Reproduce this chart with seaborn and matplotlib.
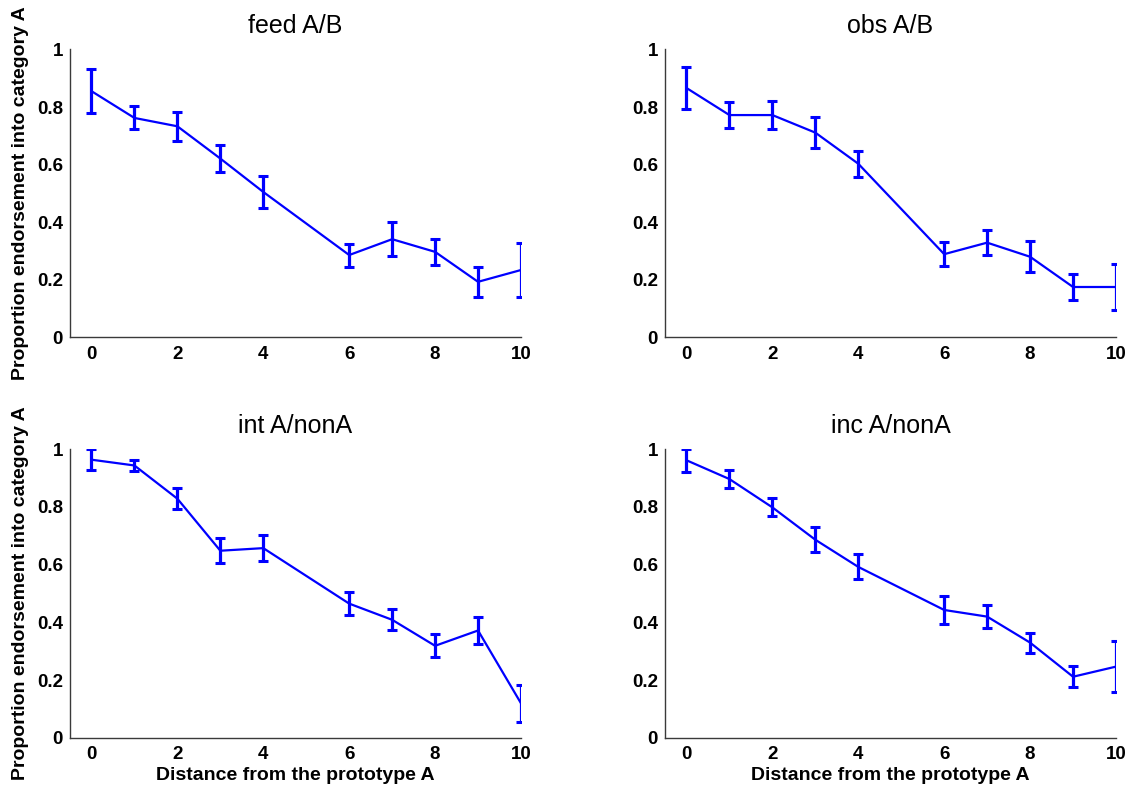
import numpy as np
import pandas as pd
import matplotlib
matplotlib.use("Agg")
import matplotlib.pyplot as plt
import seaborn as sns
from matplotlib.ticker import FuncFormatter

sns.set_style("white")
plt.rcParams['font.family'] = ['Liberation Sans', 'DejaVu Sans']
plt.rcParams['text.color'] = 'black'
plt.rcParams['axes.labelcolor'] = 'black'
plt.rcParams['xtick.color'] = 'black'
plt.rcParams['ytick.color'] = 'black'

distance = [0, 1, 2, 3, 4, 6, 7, 8, 9, 10]

titles = ["feed A/B", "obs A/B", "int A/nonA", "inc A/nonA"]

feed_mean = [0.855, 0.762, 0.733, 0.621, 0.505, 0.286, 0.341, 0.297, 0.193, 0.234]
feed_err  = [0.077, 0.040, 0.050, 0.048, 0.054, 0.040, 0.060, 0.045, 0.053, 0.095]

obs_mean = [0.866, 0.772, 0.772, 0.711, 0.603, 0.289, 0.329, 0.280, 0.175, 0.175]
obs_err  = [0.072, 0.044, 0.050, 0.054, 0.045, 0.042, 0.043, 0.053, 0.045, 0.080]

int_mean = [0.963, 0.943, 0.828, 0.648, 0.657, 0.465, 0.409, 0.319, 0.372, 0.120]
int_err  = [0.036, 0.018, 0.037, 0.043, 0.044, 0.040, 0.037, 0.040, 0.046, 0.065]

inc_mean = [0.961, 0.896, 0.798, 0.686, 0.592, 0.443, 0.420, 0.330, 0.212, 0.247]
inc_err  = [0.040, 0.030, 0.031, 0.043, 0.043, 0.047, 0.039, 0.035, 0.037, 0.089]

means = [feed_mean, obs_mean, int_mean, inc_mean]
errs = [feed_err, obs_err, int_err, inc_err]

x_ticks = [0, 2, 4, 6, 8, 10]
y_ticks = [0, 0.2, 0.4, 0.6, 0.8, 1]
xlabel = "Distance from the prototype A"
ylabel = "Proportion endorsement into category A"

W, H = 1133, 787
fig = plt.figure(figsize=(W / 100, H / 100), dpi=100)

lefts = [70, 665]
tops = [49.4, 449]
bottoms = [337.4, 738]
axw = 451

blue = "#0000FF"
spine_c = "#3a3a3a"

def fmt(v, pos):
    if abs(v) < 1e-9:
        return "0"
    if abs(v - 1) < 1e-9:
        return "1"
    return f"{v:.1f}"

for i in range(4):
    r, c = divmod(i, 2)
    l = lefts[c] / W
    b = 1 - bottoms[r] / H
    h = (bottoms[r] - tops[r]) / H
    ax = fig.add_axes([l, b, axw / W, h])
    df = pd.DataFrame({"x": distance, "y": means[i]})
    sns.lineplot(data=df, x="x", y="y", ax=ax, color=blue, lw=1.6, sort=False)
    ax.errorbar(distance, means[i], yerr=errs[i], fmt="none", ecolor=blue,
                elinewidth=2.3, capsize=3.6, capthick=2.2)
    ax.set_xlim(-0.5, 10)
    ax.set_ylim(0, 1)
    ax.set_xticks(x_ticks)
    ax.set_yticks(y_ticks)
    ax.yaxis.set_major_formatter(FuncFormatter(fmt))
    for s in ["top", "right"]:
        ax.spines[s].set_visible(False)
    for s in ["left", "bottom"]:
        ax.spines[s].set_color(spine_c)
        ax.spines[s].set_linewidth(1.0)
    ax.tick_params(direction="in", length=4, width=1.0, color=spine_c,
                   labelsize=13.5)
    ax.tick_params(axis="y", pad=5)
    ax.tick_params(axis="x", pad=6)
    for lab in ax.get_xticklabels() + ax.get_yticklabels():
        lab.set_fontweight("bold")
    ax.set_title(titles[i], fontsize=18, pad=11.5)
    ax.set_xlabel(xlabel if r == 1 else "", fontsize=14, fontweight="bold", labelpad=3)
    ax.set_ylabel(ylabel if c == 0 else "", fontsize=14, fontweight="bold", labelpad=6)

fig.savefig("out.png", dpi=100, facecolor="white")
